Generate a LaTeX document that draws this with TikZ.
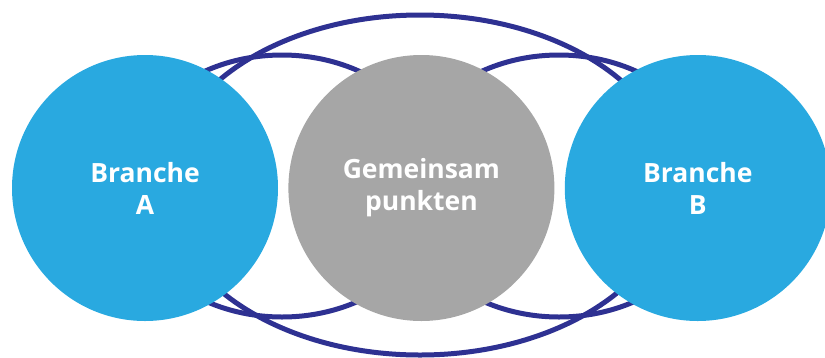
\documentclass[tikz,border=0pt]{standalone}
\usepackage{fontspec}
\setsansfont{Open Sans}
\usetikzlibrary{positioning}
\definecolor{ringblue}{HTML}{2E3192}
\definecolor{branchblue}{HTML}{29A9E0}
\definecolor{commongrey}{HTML}{A6A6A6}

\begin{document}
\begin{tikzpicture}[x=1pt,y=-1pt,
  ring/.style={draw=ringblue,line width=5pt},
  blob/.style={circle,minimum size=266pt,inner sep=0pt,align=center,text=white,
    font=\sffamily\bfseries\fontsize{26.5}{32}\selectfont}]
\useasboundingbox (0,0) rectangle (825,357);
% rings behind the circles
\draw[ring] (420,185) ellipse [x radius=255,y radius=170];
\draw[ring] (282,186) ellipse [x radius=160,y radius=131];
\draw[ring] (559,186) ellipse [x radius=160,y radius=131];
\node[blob,fill=branchblue] (brancheA) at (145,188) {Branche\\A};
\node[blob,fill=commongrey,right=10pt of brancheA] (common) {Gemeinsam\\punkten};
\node[blob,fill=branchblue,right=10pt of common] (brancheB) {Branche\\B};
\end{tikzpicture}
\end{document}
